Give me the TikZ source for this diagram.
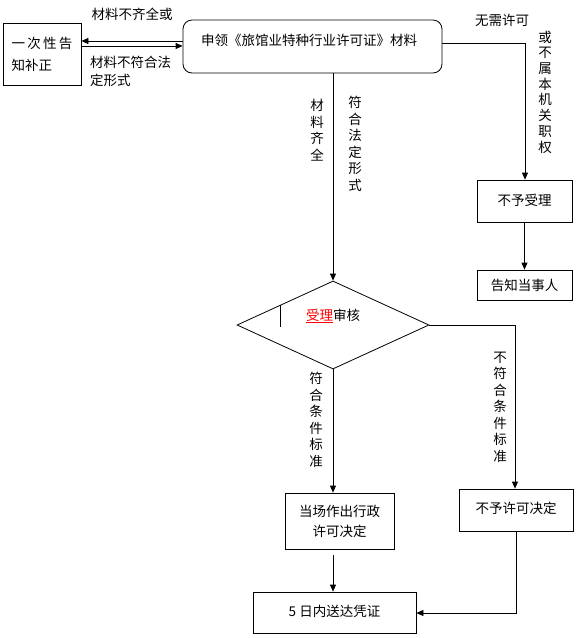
\documentclass[tikz,border=0pt]{standalone}
\usepackage{fontspec}
\setmainfont{Noto Sans CJK SC}
\usetikzlibrary{arrows.meta,shapes.geometric}
\begin{document}
\begin{tikzpicture}[x=1pt,y=-1pt,
  every node/.style={font=\fontsize{13.5}{16}\selectfont, inner sep=0pt},
  box/.style={draw, line width=0.8pt},
  ln/.style={line width=0.8pt},
  arr/.style={line width=0.8pt, -{Triangle[length=7pt,width=6pt]}},
  vlab/.style={align=center, font=\fontsize{13.5}{16.5}\selectfont},
]
\useasboundingbox (0,0) rectangle (578,638);
% boxes
\node[box, minimum width=78pt, minimum height=62pt, align=left,
      font=\fontsize{13.5}{22}\selectfont] (bz) at (42,54) {一\,次\,性\,告\\知补正};
\node[box, rounded corners=9pt, minimum width=259pt, minimum height=53pt] (main) at (312.5,46.5) {};
\node (maintext) at (309,40) {申领《旅馆业特种行业许可证》材料};
\node[box, minimum width=95pt, minimum height=42pt] (nsl) at (524.5,201) {\raisebox{3pt}{不予受理}};
\node[box, minimum width=95pt, minimum height=30pt] (gz) at (524.5,285) {告知当事人};
\node[draw, diamond, line width=0.8pt, minimum width=192pt, minimum height=88pt] (dm) at (333,325) {};
\node (dmtext) at (333,316) {\textcolor{red}{\underline{受理}}审核};
\node[box, minimum width=109pt, minimum height=56pt, align=center,
      font=\fontsize{13.5}{20}\selectfont] (dc) at (339.5,521) {当场作出行政\\许可决定};
\node[box, minimum width=114pt, minimum height=42pt] (nbx) at (516,510) {\raisebox{4pt}{不予许可决定}};
\node[box, minimum width=163pt, minimum height=41pt] (r5) at (334.5,612.5) {\raisebox{3pt}{5 日内送达凭证}};
% helper coordinates
\coordinate (y41) at (0,41);
\coordinate (y46) at (0,46);
\coordinate (y43) at (0,43);
\coordinate (cr) at (525,43);
\coordinate (dr) at (515,325);
\coordinate (y613) at (0,613);
\coordinate (tickA) at (280,305);
\coordinate (tickB) at (280,327);
% connectors
\draw[arr] (main.west |- y41) -- (bz.east |- y41);
\draw[arr] (bz.east |- y46) -- (main.west |- y46);
\draw[arr] (main.east |- y43) -- (cr) -- (cr |- nsl.north);
\draw[arr] (nsl.south) -- (gz.north);
\draw[arr] (dm.north |- main.south) -- (dm.north);
\draw[arr] (dm.east) -- (dr) -- (dr |- nbx.north);
\draw[arr] (dm.south) -- (dm.south |- dc.north);
\draw[arr, shorten <=6pt] (dm.south |- dc.south) -- (dm.south |- r5.north);
\draw[arr] (nbx.south) -- (nbx.south |- y613) -- (r5.east |- y613);
\draw[ln] (tickA) -- (tickB);
% labels
\node (l1) at (132,14) {材料不齐全或};
\node[anchor=west, align=left, font=\fontsize{13.5}{18}\selectfont] (l2) at (90,71) {材料不符合法\\定形式};
\node (l3) at (502,20) {无需许可};
\node[vlab, font=\fontsize{13.5}{15.7}\selectfont] (l4) at (545,92) {或\\不\\属\\本\\机\\关\\职\\权};
\node[vlab] (l5) at (317,130) {材\\料\\齐\\全};
\node[vlab] (l6) at (355,144) {符\\合\\法\\定\\形\\式};
\node[vlab] (l7) at (316,420) {符\\合\\条\\件\\标\\准};
\node[vlab] (l8) at (500,407) {不\\符\\合\\条\\件\\标\\准};
\end{tikzpicture}
\end{document}
